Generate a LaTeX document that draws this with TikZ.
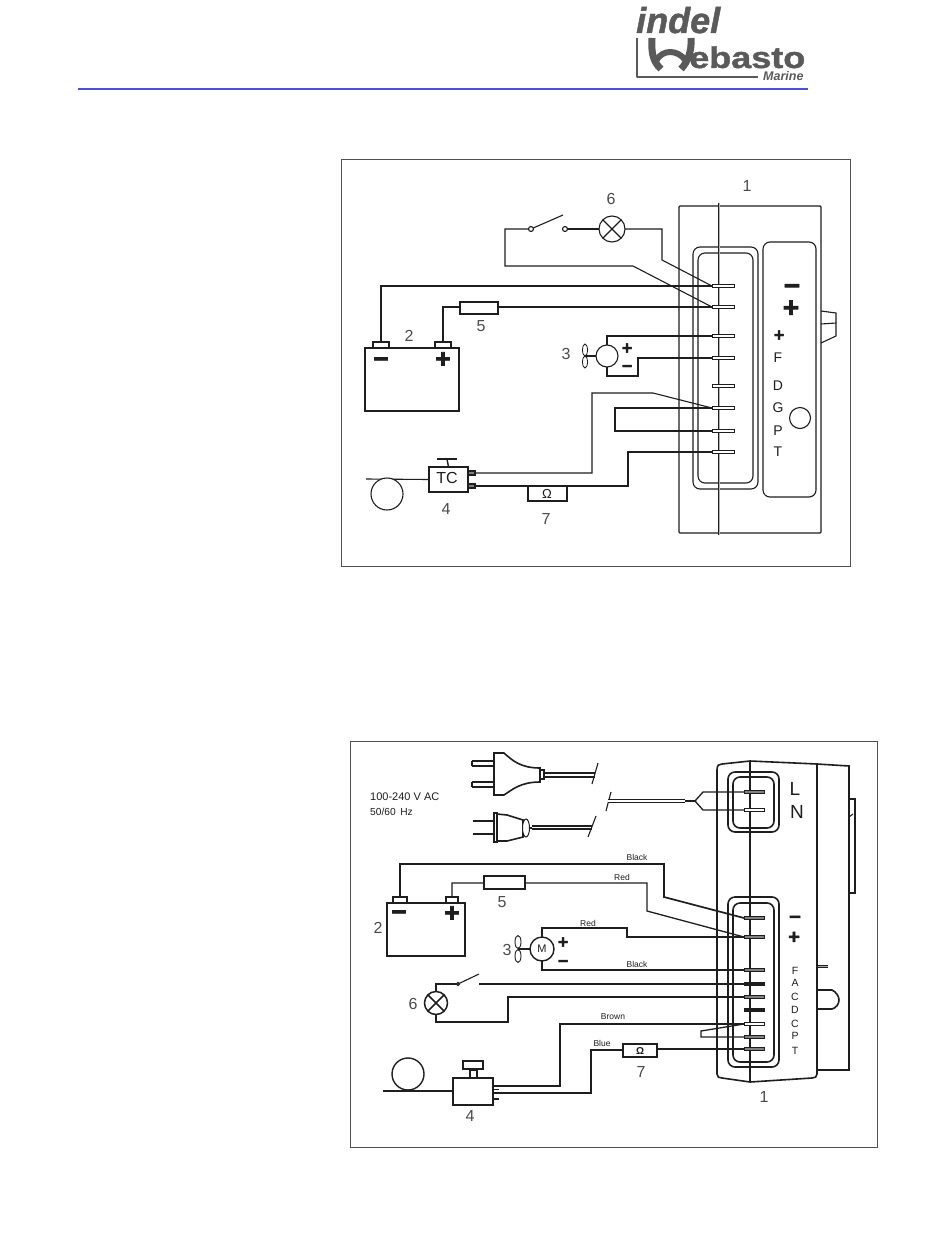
\documentclass[tikz,border=0pt]{standalone}
\usepackage{fontspec}
\setmainfont{Liberation Sans}
\newfontfamily\heavyfont[FakeBold=2.5]{Liberation Sans Bold}
\newfontfamily\logofont[FakeBold=1.2]{Liberation Sans Bold}
\newfontfamily\logoitfont[FakeBold=1.2]{Liberation Sans Bold Italic}
\usetikzlibrary{calc,shapes.geometric}
\definecolor{ink}{HTML}{1E1E1E}
\definecolor{framecol}{HTML}{505050}
\definecolor{logogrey}{HTML}{5A5A5A}
\definecolor{rulecol}{HTML}{4E4ED8}
\tikzset{
  wire/.style={draw=ink,line width=1.1pt,line join=miter},
  hwire/.style={draw=ink,line width=1.6pt,line join=miter},
  framebox/.style={draw=framecol,line width=0.9pt,fill=white,inner sep=0pt,outer sep=0pt},
  partbox/.style={draw=ink,line width=1.1pt,fill=white,inner sep=0pt,outer sep=0pt},
  heavybox/.style={draw=ink,line width=2pt,fill=white,inner sep=0pt,outer sep=0pt},
  pinbar/.style={draw=ink,line width=0.9pt,fill=white,inner sep=0pt,outer sep=0pt,minimum width=22pt,minimum height=3.5pt},
  pinbarb/.style={draw=ink,line width=0.9pt,fill=gray,inner sep=0pt,outer sep=0pt,minimum width=20pt,minimum height=3.5pt},
  roundbox/.style={draw=ink,line width=1.1pt,rounded corners=7pt,inner sep=0pt,outer sep=0pt},
  roundboxb/.style={draw=ink,line width=1.6pt,rounded corners=7pt,inner sep=0pt,outer sep=0pt},
  ringpart/.style={circle,draw=ink,line width=1.1pt,fill=white,inner sep=0pt,outer sep=0pt},
  numlab/.style={inner sep=0pt,text=ink!80,font=\fontsize{16}{16}\selectfont},
  letlab/.style={inner sep=0pt,text=ink,font=\fontsize{14}{14}\selectfont},
  letlabb/.style={inner sep=0pt,text=ink,font=\fontsize{10.5}{10.5}\selectfont},
  biglab/.style={inner sep=0pt,text=ink,font=\fontsize{19}{19}\selectfont},
  signlab/.style={inner sep=0pt,anchor=base,text=ink,font=\fontsize{28}{28}\selectfont\heavyfont},
  batsign/.style={inner sep=0pt,anchor=base,text=ink,font=\fontsize{26}{26}\selectfont\heavyfont},
  midsign/.style={inner sep=0pt,anchor=base,text=ink,font=\fontsize{20}{20}\selectfont\heavyfont},
  smallsign/.style={inner sep=0pt,anchor=base,text=ink,font=\fontsize{18}{18}\selectfont\heavyfont},
  tinylab/.style={inner sep=0pt,text=ink,font=\fontsize{8.5}{8.5}\selectfont},
  logostroke/.style={draw=logogrey,line cap=round,line join=round},
}
\newcommand{\bx}[6]{\node[#2,minimum width={(#5)-(#3)},minimum height={(#6)-(#4)}] (#1) at ({((#3)+(#5))/2},{((#4)+(#6))/2}) {};}
\newcommand{\lab}[5]{\node[#2] (#1) at (#3,#4) {#5};}
\begin{document}
\begin{tikzpicture}[x=1pt,y=-1pt]
\useasboundingbox (0,0) rectangle (950,1244);
\fill[white] (0,0) rectangle (950,1244);
% header
\coordinate (ruleL) at (78,89);
\coordinate (ruleR) at (808,89);
\draw[rulecol,line width=1.2pt] (ruleL) -- (ruleR);
\node[inner sep=0pt,anchor=base west,text=logogrey,font=\fontsize{36}{36}\selectfont\logoitfont] (logoA) at (636,33) {indel};
\node[inner sep=0pt,anchor=base west,text=logogrey,font=\fontsize{30}{30}\selectfont\logofont,xscale=1.2] (logoB) at (689,68) {ebasto};
\node[inner sep=0pt,anchor=base west,text=logogrey,font=\fontsize{12.5}{12.5}\selectfont\bfseries\itshape] (logoC) at (763,81) {Marine};
\draw[logostroke,line width=1.3pt,line cap=butt] (637,38) -- (637,77) -- (758,77);
\draw[logostroke,line width=7pt,line cap=butt] (652,38) .. controls (651,52) and (653,62) .. (661,69);
\draw[logostroke,line width=7pt,line cap=butt] (691,38) .. controls (692,50) and (688,62) .. (681,69);
\draw[logostroke,line width=6pt,line cap=butt] (656,61) .. controls (662,49) and (678,49) .. (686,61);

%% ===== diagram 1 =====
\bx{frameA}{framebox}{341}{159}{850}{566}
% module 1
\bx{bodyA}{partbox,rounded corners=1pt}{679}{206}{821}{533}
\draw[wire] (821,311) -- (836,313) -- (836,336) -- (821,343);
\draw[wire] (821,324) -- (836,323);
\bx{panelA}{roundbox,fill=white}{763}{242}{816}{497}
\bx{connOutA}{roundbox}{693}{247}{758}{489}
\bx{connInA}{roundbox}{698}{253}{753}{483}
\coordinate (ctrAt) at (719,203);
\coordinate (ctrAb) at (719,535);
\draw[draw=ink,line width=2.2pt] (ctrAt) -- (ctrAb);
\draw[draw=gray!60,line width=0.5pt] (ctrAt) -- (ctrAb);
\lab{numA1}{numlab}{747}{186}{1}
\lab{sA1}{signlab}{792}{295}{−}
\lab{sA2}{signlab}{791}{317}{+}
\lab{sA3}{smallsign}{779}{341}{+}
\lab{lF}{letlab}{778}{358}{F}
\lab{lD}{letlab}{778}{386}{D}
\lab{lG}{letlab}{778}{408}{G}
\lab{lP}{letlab}{778}{431}{P}
\lab{lT}{letlab}{778}{452}{T}
\node[ringpart,minimum size=21pt] (ledA) at (800,418) {};
% pins
\node[pinbar] (a1) at (723,286) {};
\node[pinbar] (a2) at (723,307) {};
\node[pinbar] (a3) at (723,336) {};
\node[pinbar] (a4) at (723,358) {};
\node[pinbar] (a5) at (723,386) {};
\node[pinbar] (a6) at (723,408) {};
\node[pinbar] (a7) at (723,431) {};
\node[pinbar] (a8) at (723,452) {};
% battery
\bx{batA}{partbox}{365}{348}{459}{411}
\bx{batAn}{partbox}{373}{342}{389}{348}
\bx{batAp}{partbox}{435}{342}{451}{348}
\lab{sA4}{batsign}{381}{367.5}{−}
\lab{sA5}{batsign}{443}{367.5}{+}
\lab{numA2}{numlab}{409}{336}{2}
\draw[wire] (batAn.north) |- (a1.west);
\draw[hwire,line width=1.4pt] (batAp.north) |- (a2.west);
\bx{fuseA}{partbox}{460}{302}{498}{314}
\lab{numA5}{numlab}{481}{326}{5}
% motor
\node[ringpart,minimum size=22pt] (motA) at (607,356) {};
\node[draw=ink,line width=0.8pt,ellipse,inner sep=0pt,minimum width=5pt,minimum height=12pt] (fanA1) at (585,350) {};
\node[draw=ink,line width=0.8pt,ellipse,inner sep=0pt,minimum width=5pt,minimum height=12pt] (fanA2) at (585,362) {};
\coordinate (fanAc) at (585,356);
\draw[wire] (fanAc) -- (motA.west);
\lab{sA6}{smallsign}{627}{354}{+}
\lab{sA7}{smallsign}{627}{372}{−}
\lab{numA3}{numlab}{566}{354}{3}
\draw[wire] (motA.north) -- (607,336) -- (a3.west);
\draw[wire] (motA.south) -- (607,376) -- (638,376) -- (638,358) -- (a4.west);
% switch + lamp
\node[ringpart,minimum size=5pt] (swAa) at (531,229) {};
\node[ringpart,minimum size=5pt] (swAb) at (565,229) {};
\coordinate (swAt) at (563,215);
\draw[wire] (swAa) -- (swAt);
\node[ringpart,minimum size=26pt] (lampA) at (612,229) {};
\draw[wire] (lampA.north west) -- (lampA.south east);
\draw[wire] (lampA.south west) -- (lampA.north east);
\lab{numA6}{numlab}{611}{199}{6}
\draw[wire] (swAb) -- (lampA);
\draw[wire] (lampA.east) -- (662,229) -- (662,260) -- (a1.west);
\draw[wire] (swAa.west) -- (505,229) -- (505,266) -- (633,266) -- (a2.west);
% sensor
\bx{tcA}{partbox}{429}{467}{468}{492}
\node[inner sep=0pt,text=ink,font=\fontsize{16}{16}\selectfont] (tcTxt) at (447,478) {TC};
\draw[wire,line width=1.4pt] (447,459) -- (tcA.north);
\draw[wire] (437,459) -- (457,459);
\bx{tcAa}{partbox,fill=gray}{468}{471}{475}{475}
\bx{tcAb}{partbox,fill=gray}{468}{484}{475}{488}
\coordinate (tubeA) at (366,479);
\draw[wire] (tubeA) -- (tcA.west);
\node[ringpart,minimum size=32pt] (bulbA) at (387,494) {};
\lab{numA4}{numlab}{446}{509}{4}
\draw[wire] (tcAa.east) -- (592,473) -- (592,393) -- (653,393) -- (a6.west);
\draw[wire] (tcAb.east) -- (628,486) -- (628,452) -- (a8.west);
\bx{resA}{heavybox}{528}{486}{567}{501}
\node[inner sep=0pt,text=ink,font=\fontsize{13}{13}\selectfont] (resAt) at (547,494) {Ω};
\lab{numA7}{numlab}{546}{519}{7}
\draw[wire] (a6.west) -- (615,408) -- (615,431) -- (a7.west);

%% ===== diagram 2 =====
\bx{frameB}{framebox}{350}{741}{877}{1147}
% module
\draw[hwire] (817,764) -- (849,766) -- (849,1070) -- (817,1070);
\draw[hwire,line width=2pt] (850,799) -- (855,799) -- (855,893) -- (850,893);
\draw[wire] (849,817) -- (853,814);
\draw[hwire] (717,1074) -- (717,770) .. controls (717,765) and (719,764) .. (722,764) -- (750,761) -- (817,764) -- (817,1074) .. controls (817,1077) and (815,1078) .. (812,1078) -- (750,1082) -- (722,1078) .. controls (719,1078) and (717,1077) .. (717,1074);
\draw[draw=ink,line width=3pt] (818,966) -- (828,966);
\draw[draw=gray!70,line width=0.7pt] (818,966) -- (828,966);
\draw[hwire] (818,990) -- (832,990) .. controls (836,992) and (839,996) .. (839,1000) .. controls (839,1004) and (836,1008) .. (832,1009) -- (818,1009);
\bx{connOutB}{roundboxb}{728}{772}{779}{832}
\bx{connInB}{roundboxb}{733}{777}{774}{828}
\bx{connOutC}{roundboxb}{728}{897}{779}{1067}
\bx{connInC}{roundboxb}{733}{903}{774}{1062}
\coordinate (ctrBt) at (750,761);
\coordinate (ctrBb) at (750,1082);
\draw[draw=ink,line width=1.6pt] (ctrBt) -- (ctrBb);
\lab{lL}{biglab}{795}{789}{L}
\lab{lN}{biglab}{797}{812}{N}
\lab{sB1}{midsign}{795}{923.5}{−}
\lab{sB2}{midsign}{794}{943.5}{+}
\lab{lbF}{letlabb}{795}{971}{F}
\lab{lbA}{letlabb}{795}{983}{A}
\lab{lbC}{letlabb}{795}{997}{C}
\lab{lbD}{letlabb}{795}{1010}{D}
\lab{lbCb}{letlabb}{795}{1024}{C}
\lab{lbP}{letlabb}{795}{1036}{P}
\lab{lbT}{letlabb}{795}{1051}{T}
\lab{numB1}{numlab}{764}{1097}{1}
% pins
\node[pinbarb] (bL) at (754,792) {};
\node[pinbarb,fill=white] (bN) at (754,810) {};
\node[pinbarb] (b1) at (754,918) {};
\node[pinbarb] (b2) at (754,937) {};
\node[pinbarb] (b3) at (754,970) {};
\node[pinbarb,fill=ink] (b4) at (754,984) {};
\node[pinbarb] (b5) at (754,997) {};
\node[pinbarb,fill=ink] (b6) at (754,1010) {};
\node[pinbarb,fill=white] (b7) at (754,1024) {};
\node[pinbarb] (b8) at (754,1037) {};
\node[pinbarb] (b9) at (754,1049) {};
% plug 1
\coordinate (pl1a) at (595,773);
\coordinate (pl1b) at (595,777);
\draw[hwire,line width=1.2pt] (472,761) -- (494,761) (472,766) -- (494,766) (472,782) -- (494,782) (472,787) -- (494,787) (472,761) -- (472,766) (472,782) -- (472,787);
\draw[hwire,fill=white] (494,753) -- (504,753) .. controls (512,760) and (520,768) .. (540,768) -- (540,782) .. controls (520,782) and (512,790) .. (504,795) -- (494,795) -- cycle;
\draw[wire,fill=white] (540,770) rectangle (544,779);
\draw[wire] (544,773) -- (pl1a);
\draw[wire] (544,777) -- (pl1b);
\coordinate (sl1a) at (598,763);
\coordinate (sl1b) at (592,784);
\draw[wire] (sl1a) -- (sl1b);
% plug 2
\draw[hwire,line width=2.2pt] (473,821) -- (494,821);
\draw[hwire,line width=2.2pt] (473,834) -- (494,834);
\draw[hwire,fill=white] (494,813) rectangle (497,842);
\draw[hwire,fill=white] (497,814) -- (507,815) -- (523,820) -- (523,837) -- (507,841) -- (497,841) -- cycle;
\node[draw=ink,line width=1pt,fill=white,ellipse,inner sep=0pt,minimum width=7pt,minimum height=18pt] (pl2e) at (526,828) {};
\coordinate (pl2n) at (532,828);
\draw[hwire,line width=2.5pt] (pl2e.east) -- (pl2n);
\coordinate (pl2a) at (592,826);
\coordinate (pl2b) at (592,829);
\draw[wire] (pl2n) ++(0,-2) -- (pl2a);
\draw[wire] (pl2n) ++(0,1) -- (pl2b);
\coordinate (sl2a) at (596,816);
\coordinate (sl2b) at (588,837);
\draw[wire] (sl2a) -- (sl2b);
\node[inner sep=0pt,anchor=west,text=ink,font=\fontsize{11}{11}\selectfont] (noteA) at (370,797) {100-240 V AC};
\node[inner sep=0pt,anchor=west,text=ink,font=\fontsize{10.2}{10.2}\selectfont] (noteB) at (370,812) {50/60\, Hz};
% mains cable
\coordinate (sl3a) at (611,792);
\coordinate (sl3b) at (606,811);
\draw[wire] (sl3a) -- (sl3b);
\coordinate (cabL) at (608,801);
\coordinate (cabR) at (685,801);
\coordinate (cabS) at (695,801);
\draw[draw=ink,line width=1.1pt,double=white,double distance=2.4pt] (cabL) -- (cabR);
\draw[hwire,line width=2.4pt] (cabR) -- (cabS);
\draw[wire,line width=1.3pt] (cabS) -- (703,792) -- (bL.west);
\draw[wire,line width=1.3pt] (cabS) -- (703,810) -- (bN.west);
% battery
\bx{batB}{partbox,line width=1.4pt}{387}{903}{465}{956}
\bx{batBn}{partbox}{393}{897}{407}{903}
\bx{batBp}{partbox}{446}{897}{458}{903}
\lab{sB3}{batsign}{399}{920.5}{−}
\lab{sB4}{batsign}{452}{921.5}{+}
\lab{numB2}{numlab}{378}{928}{2}
\draw[hwire,line width=1.7pt] (batBn.north) -- (400,864) -- (664,864) -- (664,897) -- (b1.west);
\draw[wire,line width=1.3pt] (batBp.north) -- (452,883) -- (647,883) -- (647,911) -- (b2.west);
\bx{fuseB}{heavybox,line width=1.6pt}{484}{876}{525}{889}
\lab{numB5}{numlab}{502}{902}{5}
\lab{tBlack1}{tinylab}{637}{857}{Black}
\lab{tRed1}{tinylab}{622}{877}{Red}
% motor
\node[ringpart,minimum size=24pt,line width=1.4pt] (motB) at (542,949) {};
\node[inner sep=0pt,text=ink,font=\fontsize{11}{11}\selectfont] (motBt) at (542,949) {M};
\node[draw=ink,line width=0.9pt,ellipse,inner sep=0pt,minimum width=6pt,minimum height=13pt] (fanB1) at (518,942) {};
\node[draw=ink,line width=0.9pt,ellipse,inner sep=0pt,minimum width=6pt,minimum height=13pt] (fanB2) at (518,956) {};
\coordinate (fanBc) at (518,949);
\draw[wire] (fanBc) -- (motB.west);
\lab{numB3}{numlab}{507}{950}{3}
\lab{sB5}{smallsign}{563}{948}{+}
\lab{sB6}{smallsign}{563}{967}{−}
\draw[wire,line width=1.4pt] (motB.north) -- (542,928) -- (627,928) -- (627,937) -- (b2.west);
\draw[wire,line width=1.4pt] (motB.south) -- (542,970) -- (b3.west);
\lab{tRed2}{tinylab}{588}{923}{Red}
\lab{tBlack2}{tinylab}{637}{964}{Black}
% lamp + switch
\node[ringpart,minimum size=23pt,line width=1.5pt] (lampB) at (436,1003) {};
\draw[wire,line width=1.5pt] (lampB.north west) -- (lampB.south east);
\draw[wire,line width=1.5pt] (lampB.south west) -- (lampB.north east);
\lab{numB6}{numlab}{413}{1004}{6}
\node[ringpart,minimum size=3pt] (swBa) at (458,984) {};
\coordinate (swBt) at (479,974);
\coordinate (swBb) at (479,984);
\draw[wire] (swBa) -- (swBt);
\draw[wire,line width=1.4pt] (lampB.north) -- (436,984) -- (swBa);
\draw[draw=ink,line width=2.4pt] (swBb) -- (b4.east);
\draw[wire,line width=1.5pt] (lampB.south) -- (436,1022) -- (508,1022) -- (508,997) -- (b5.west);
% sensor
\bx{tcB}{partbox,line width=1.8pt}{453}{1078}{493}{1105}
\bx{tcBs}{partbox}{470}{1070}{477}{1078}
\bx{tcBc}{partbox,line width=1.6pt}{463}{1061}{483}{1069}
\coordinate (t1) at (499,1086);
\coordinate (t2) at (499,1089.5);
\coordinate (t3) at (499,1093);
\coordinate (t4) at (499,1099);
\draw[wire] (tcB.east |- t1) -- (t1);
\draw[wire] (tcB.east |- t2) -- (t2);
\draw[wire] (tcB.east |- t3) -- (t3);
\draw[wire] (tcB.east |- t4) -- (t4);
\coordinate (tubeB) at (383,1091);
\draw[draw=ink,line width=2.4pt] (tubeB) -- (tcB.west |- tubeB);
\node[ringpart,minimum size=32pt,line width=1.4pt] (bulbB) at (408,1074) {};
\lab{numB4}{numlab}{470}{1116}{4}
\draw[wire,line width=1.5pt] (t1) -- (560,1086) -- (560,1024) -- (b7.west);
\draw[wire,line width=1.5pt] (t3) -- (591,1093) -- (591,1050) -- (623,1050);
\bx{resB}{heavybox,line width=1.6pt}{623}{1044}{657}{1057}
\node[inner sep=0pt,text=ink,font=\fontsize{10}{10}\selectfont\bfseries] (resBt) at (640,1051) {Ω};
\lab{numB7}{numlab}{641}{1072}{7}
\draw[wire,line width=1.5pt] (resB.east |- b9) -- (b9.west);
\draw[wire,line width=1.3pt] (b7.west) -- (701,1031) -- (701,1037) -- (b8.west);
\lab{tBrown}{tinylab}{613}{1017}{Brown}
\lab{tBlue}{tinylab}{602}{1043}{Blue}
\end{tikzpicture}
\end{document}
